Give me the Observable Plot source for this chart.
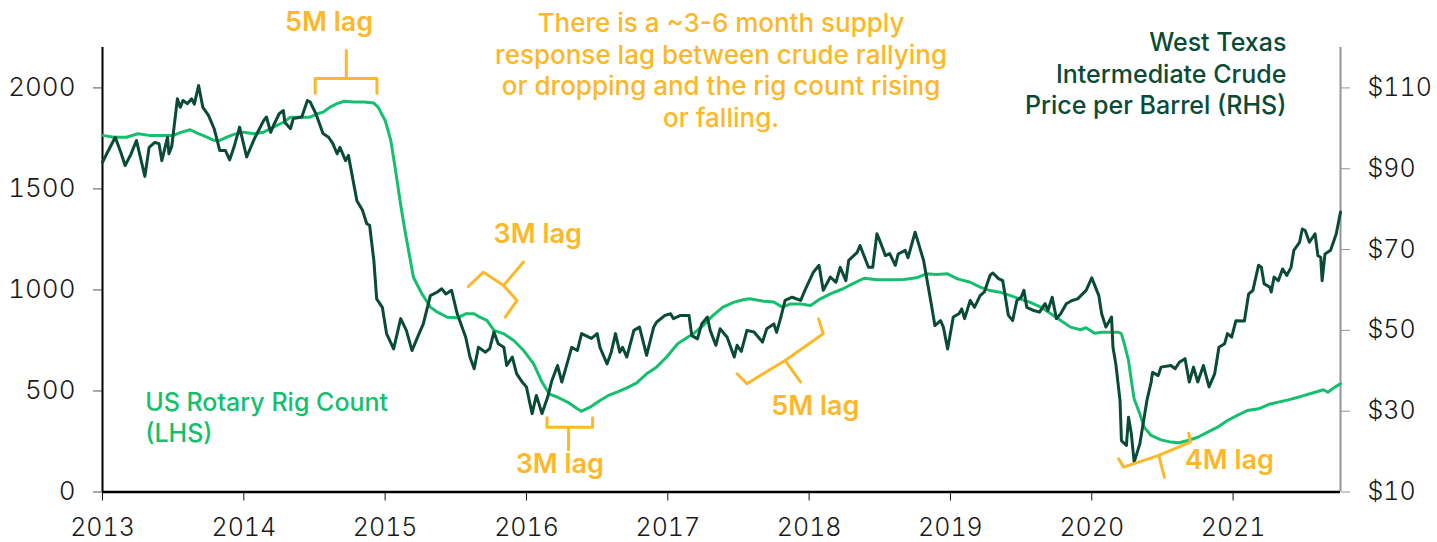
<!DOCTYPE html>
<html><head><meta charset="utf-8">
<script src="https://cdn.jsdelivr.net/npm/d3@7"></script>
<script src="https://cdn.jsdelivr.net/npm/@observablehq/plot@0.6"></script>
<style>
html,body{margin:0;padding:0;background:#fff;}
#chart svg{display:block;}
</style></head><body><div id="chart"></div>
<script>
// ---- data ----
const wtiYear = [2013.00,2013.03,2013.09,2013.13,2013.16,2013.20,2013.24,2013.30,2013.33,2013.37,2013.40,2013.42,2013.46,2013.47,2013.49,2013.53,2013.55,2013.57,2013.60,2013.63,2013.65,2013.68,2013.71,2013.75,2013.79,2013.83,2013.87,2013.90,2013.93,2013.97,
2014.02,2014.06,2014.08,2014.14,2014.16,2014.19,2014.21,2014.25,2014.28,2014.29,2014.33,2014.35,2014.41,2014.45,2014.47,2014.51,2014.54,2014.56,2014.60,2014.63,2014.66,2014.68,2014.72,2014.74,2014.80,2014.84,2014.87,2014.89,2014.92,2014.94,2014.98,
2015.01,2015.06,2015.11,2015.15,2015.19,2015.24,2015.27,2015.32,2015.37,2015.40,2015.43,2015.47,2015.51,2015.57,2015.60,2015.63,2015.66,2015.71,2015.74,2015.77,2015.80,2015.84,2015.86,2015.90,2015.93,2015.97,
2016.00,2016.02,2016.04,2016.07,2016.11,2016.15,2016.18,2016.22,2016.25,2016.32,2016.36,2016.39,2016.43,2016.46,2016.50,2016.52,2016.57,2016.60,2016.63,2016.66,2016.68,2016.71,2016.76,2016.80,2016.85,2016.90,2016.92,2016.98,
2017.02,2017.04,2017.09,2017.15,2017.17,2017.21,2017.24,2017.28,2017.30,2017.34,2017.37,2017.42,2017.47,2017.49,2017.52,2017.56,2017.61,2017.67,2017.70,2017.75,2017.77,2017.80,2017.83,2017.88,2017.94,2017.97,
2018.03,2018.07,2018.10,2018.15,2018.19,2018.22,2018.26,2018.28,2018.34,2018.36,2018.42,2018.45,2018.48,2018.50,2018.54,2018.57,2018.61,2018.63,2018.68,2018.70,2018.75,2018.81,2018.86,2018.89,2018.93,2018.95,2018.98,
2019.02,2019.06,2019.08,2019.10,2019.14,2019.17,2019.21,2019.24,2019.28,2019.30,2019.34,2019.37,2019.41,2019.44,2019.47,2019.50,2019.52,2019.54,2019.59,2019.63,2019.67,2019.69,2019.72,2019.75,2019.78,2019.82,2019.86,2019.90,2019.96,
2020.00,2020.05,2020.07,2020.10,2020.14,2020.15,2020.17,2020.20,2020.21,2020.245,2020.26,2020.28,2020.30,2020.34,2020.39,2020.42,2020.43,2020.47,2020.49,2020.56,2020.59,2020.62,2020.66,2020.69,2020.72,2020.75,2020.79,2020.83,2020.87,2020.90,2020.94,2020.96,2020.99,
2021.02,2021.08,2021.11,2021.14,2021.18,2021.20,2021.22,2021.26,2021.27,2021.29,2021.32,2021.35,2021.38,2021.41,2021.43,2021.47,2021.49,2021.51,2021.54,2021.58,2021.60,2021.62,2021.63,2021.65,2021.69,2021.73,2021.76];
const wtiPrice = [91.6,93.7,97.8,94.0,90.8,93.5,97.0,88.1,95.3,96.5,96.2,92.0,97.8,93.7,95.5,107.3,105.2,106.9,106.1,107.3,106.0,110.6,105.2,103.2,99.9,94.5,94.5,92.2,95.3,100.3,
92.9,96.2,97.8,101.9,102.8,99.0,100.7,103.6,104.4,101.5,99.9,102.4,102.8,106.9,106.5,103.6,100.7,98.7,97.8,96.2,93.7,95.3,92.0,93.3,82.1,79.7,76.4,76.0,67.3,57.8,55.7,
49.2,45.4,52.9,50.0,45.0,49.2,51.6,58.6,59.5,60.3,59.0,59.9,54.1,48.3,43.4,40.5,45.8,44.6,45.5,49.6,46.7,45.8,41.3,43.4,39.3,37.2,
36.0,32.6,29.4,33.9,29.4,33.5,37.6,41.3,37.2,45.8,45.0,49.2,48.5,48.0,49.2,45.8,41.7,44.6,49.2,44.6,45.8,43.4,50.0,50.8,43.8,50.8,52.0,53.7,
54.1,52.9,53.7,53.7,48.7,47.9,51.6,53.3,50.0,46.3,50.4,48.3,43.4,46.3,44.8,50.0,49.6,47.1,50.4,51.6,49.5,53.3,57.4,58.2,57.4,59.9,
64.4,66.1,59.9,63.2,61.9,65.6,62.3,67.3,69.3,71.0,65.6,65.6,73.9,72.2,68.5,69.0,66.1,68.9,69.8,68.0,74.3,67.3,57.4,51.2,52.4,50.8,45.4,
53.3,54.1,55.3,52.9,57.4,55.7,58.6,59.5,63.6,64.2,62.8,62.3,53.7,52.4,57.4,58.2,59.9,55.7,54.9,54.5,56.6,54.9,58.2,52.9,54.1,56.6,57.4,57.8,59.9,
63.0,58.6,54.1,50.8,53.3,45.8,41.7,32.6,22.7,21.5,28.5,24.4,17.4,21.9,32.6,37.2,39.6,38.8,40.9,41.3,40.5,42.1,43.0,37.2,40.9,37.2,41.3,36.0,39.3,45.8,46.7,49.2,48.3,
52.4,52.3,59.0,59.9,66.1,65.6,61.5,60.7,59.5,63.2,62.3,65.2,63.6,65.6,69.8,71.8,75.1,74.7,71.8,73.9,68.5,68.1,62.3,68.9,69.8,73.9,79.3];

const rigYear = [2013.00,2013.08,2013.17,2013.25,2013.33,2013.40,2013.50,2013.56,2013.62,2013.67,2013.71,2013.79,2013.83,2013.88,2013.93,
2014.00,2014.07,2014.14,2014.21,2014.28,2014.33,2014.40,2014.47,2014.52,2014.56,2014.61,2014.66,2014.71,2014.78,2014.85,2014.92,2014.95,
2015.00,2015.04,2015.07,2015.11,2015.14,2015.20,2015.26,2015.32,2015.37,2015.44,2015.51,2015.57,2015.63,2015.67,2015.72,2015.77,2015.84,2015.91,2015.98,
2016.05,2016.11,2016.16,2016.22,2016.29,2016.36,2016.39,2016.45,2016.52,2016.58,2016.64,2016.71,2016.78,2016.85,2016.92,2016.99,
2017.07,2017.14,2017.18,2017.25,2017.32,2017.39,2017.47,2017.54,2017.58,2017.68,2017.75,2017.81,2017.87,2017.94,
2018.01,2018.08,2018.15,2018.24,2018.31,2018.39,2018.48,2018.57,2018.67,2018.76,2018.83,2018.90,2018.98,
2019.05,2019.14,2019.21,2019.28,2019.35,2019.42,2019.49,2019.56,2019.64,2019.71,2019.78,2019.85,2019.92,2019.96,
2020.02,2020.07,2020.19,2020.21,2020.23,2020.26,2020.28,2020.30,2020.34,2020.37,2020.42,2020.49,2020.56,2020.62,2020.68,2020.75,2020.82,2020.89,2020.96,
2021.03,2021.10,2021.18,2021.25,2021.32,2021.39,2021.48,2021.58,2021.64,2021.67,2021.72,2021.76];
const rigCount = [1765,1756,1756,1773,1765,1765,1765,1781,1793,1776,1765,1740,1740,1756,1770,
1781,1773,1781,1806,1830,1855,1855,1855,1872,1880,1905,1922,1934,1930,1930,1925,1905,
1839,1740,1608,1420,1294,1063,981,915,890,865,862,882,882,865,849,800,783,750,700,
635,544,486,469,445,412,400,420,453,478,494,515,540,585,618,667,
734,766,783,824,874,915,940,953,956,944,940,915,931,931,
923,956,981,1006,1031,1058,1050,1050,1052,1060,1080,1077,1080,
1055,1038,1014,997,989,973,956,940,915,882,849,816,803,813,
786,791,791,783,734,651,552,460,387,321,280,258,247,244,255,271,296,321,354,
379,403,412,433,445,456,473,494,506,494,519,536];

const rigTicks = [0, 500, 1000, 1500, 2000];
const priceTicks = [10, 30, 50, 70, 90, 110];
const yearTicks = [2013, 2014, 2015, 2016, 2017, 2018, 2019, 2020, 2021];

// lag brackets, in data units [year, rig-scale value]
const bracket5MTop = [[[2014.505,1973],[2014.505,2047],[2014.942,2047],[2014.942,1973]], [[2014.725,2047],[2014.725,2185]]];
const bracket3MUpper = [[[2015.588,1017],[2015.696,1088],[2015.838,1022],[2015.933,948],[2015.850,865]], [[2015.838,1022],[2015.979,1138]]];
const bracket3MLower = [[[2016.145,367],[2016.145,321],[2016.468,321],[2016.468,367]], [[2016.298,321],[2016.298,209]]];
const bracket5MMid = [[[2017.49,585],[2017.56,536],[2017.83,651],[2018.10,783],[2018.067,857]], [[2017.83,651],[2017.94,544]]];
const bracket4M = [[[2020.19,164],[2020.226,123],[2020.474,181],[2020.698,247],[2020.686,291]], [[2020.474,181],[2020.514,73]]];

// ---- build tables ----
const toRig = p => (p - 10) * 20;   // dual axis: $10..$110 ↔ 0..2000
const wti = wtiYear.map((t, i) => ({t, v: toRig(wtiPrice[i])}));
const rig = rigYear.map((t, i) => ({t, v: rigCount[i]}));
const brackets = [bracket5MTop, bracket3MUpper, bracket3MLower, bracket5MMid, bracket4M]
  .flatMap((b, bi) => b.flatMap((seg, si) => seg.map(([t, v]) => ({t, v, g: bi + "-" + si}))));

const ORANGE = "#FBB829", RIGC = "#15BF6E", WTIC = "#0A4B37";
const X1 = 2021.76;
const FONT = "Inter, Lato, sans-serif";

const lagText = (txt, x, y) => Plot.text([txt], {x: () => x, y: () => y, text: d => d, fill: ORANGE,
  fontSize: 27, fontWeight: 600, textAnchor: "middle", lineAnchor: "bottom"});

const chart = Plot.plot({
  width: 1437, height: 542,
  marginLeft: 102, marginRight: 97, marginTop: 47, marginBottom: 50.5,
  style: {fontFamily: FONT, background: "#fff", overflow: "visible"},
  x: {domain: [2013, X1]},
  y: {domain: [0, 2200]},
  marks: [
    Plot.axisY({ticks: rigTicks, anchor: "left", tickSize: 9, tickPadding: 18, fontSize: 26, fontWeight: 300,
      tickFormat: d => String(d), stroke: "#555", fill: "#1a1a1a", label: null}),
    Plot.axisY({ticks: priceTicks.map(toRig), anchor: "right", tickSize: 9, tickPadding: 18, fontSize: 25, fontWeight: 300,
      tickFormat: v => "$" + (v / 20 + 10), stroke: "#8f9693", fill: "#1a1a1a", label: null}),
    Plot.axisX({ticks: yearTicks, tickSize: 9, tickPadding: 17, fontSize: 25, fontWeight: 300,
      tickFormat: d => String(d), stroke: "#111", fill: "#1a1a1a", label: null}),
    Plot.ruleX([2013], {y1: 0, y2: 2200, stroke: "#000", strokeWidth: 2}),
    Plot.ruleX([X1], {y1: 0, y2: 2200, stroke: "#8f9693", strokeWidth: 2}),
    Plot.ruleY([0], {x1: 2013, x2: X1, stroke: "#000", strokeWidth: 2.5}),
    Plot.line(rig, {x: "t", y: "v", stroke: RIGC, strokeWidth: 3}),
    Plot.line(wti, {x: "t", y: "v", stroke: WTIC, strokeWidth: 3, strokeLinejoin: "round"}),
    Plot.line(brackets, {x: "t", y: "v", z: "g", stroke: ORANGE, strokeWidth: 3, strokeLinejoin: "round", strokeLinecap: "round"}),
    lagText("5M lag", 2014.604, 2284),
    lagText("3M lag", 2016.08, 1232),
    lagText("3M lag", 2016.236, 93),
    lagText("5M lag", 2018.044, 379),
    lagText("4M lag", 2020.973, 115),
    Plot.text(["There is a ~3-6 month supply\nresponse lag between crude rallying\nor dropping and the rig count rising\nor falling."],
      {x: () => 2017.377, y: () => 1806, text: d => d, fill: ORANGE, fontSize: 26, fontWeight: 500,
       textAnchor: "middle", lineAnchor: "bottom", lineHeight: 1.22}),
    Plot.text(["West Texas\nIntermediate Crude\nPrice per Barrel (RHS)"],
      {x: () => 2021.377, y: () => 1872, text: d => d, fill: WTIC, fontSize: 25, fontWeight: 500,
       textAnchor: "end", lineAnchor: "bottom", lineHeight: 1.25}),
    Plot.text(["US Rotary Rig Count\n(LHS)"],
      {x: () => 2013.302, y: () => 246, text: d => d, fill: RIGC, fontSize: 25, fontWeight: 500,
       textAnchor: "start", lineAnchor: "bottom", lineHeight: 1.27})
  ]
});
document.getElementById("chart").appendChild(chart);
</script></body></html>
